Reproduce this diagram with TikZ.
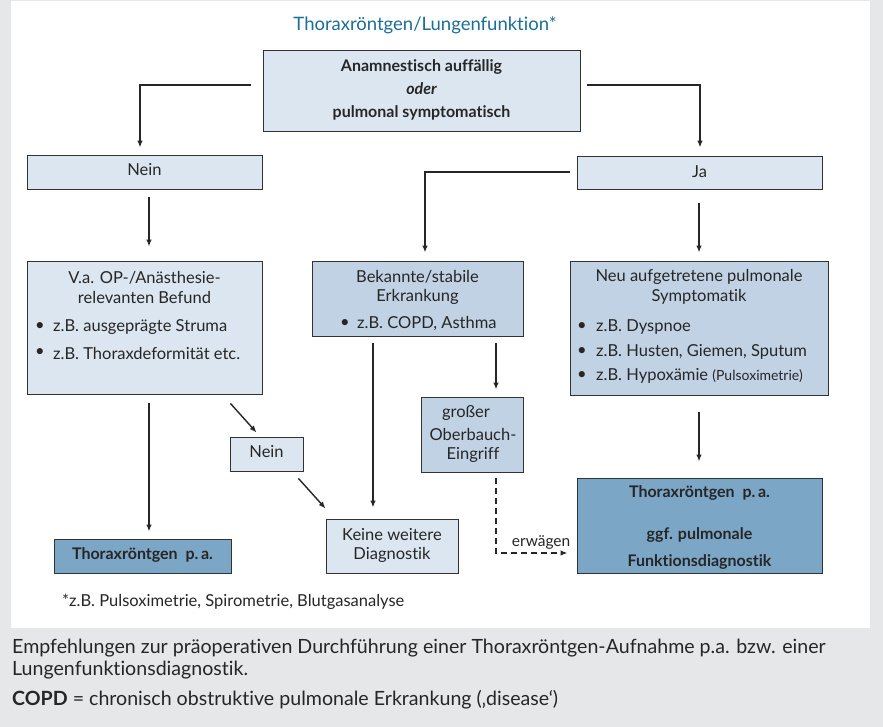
\documentclass[tikz,border=0pt]{standalone}
\usepackage{fontspec}
\setmainfont{Lato}[Ligatures=NoCommon]
\usetikzlibrary{arrows.meta,calc}
\definecolor{bggray}{RGB}{230,231,233}
\definecolor{boxlight}{RGB}{220,230,240}
\definecolor{boxmid}{RGB}{193,210,228}
\definecolor{boxdark}{RGB}{124,166,198}
\definecolor{titleblue}{RGB}{27,110,150}
\definecolor{edge}{RGB}{50,50,50}
\tikzset{
  box/.style={draw=edge, line width=0.9pt, inner sep=0pt},
  light/.style={box, fill=boxlight},
  mid/.style={box, fill=boxmid},
  dark/.style={box, fill=boxdark},
  txt/.style={inner sep=0pt, font=\fontsize{16.5}{19}\selectfont, text=black!85},
  btxt/.style={inner sep=0pt, font=\bfseries\fontsize{16}{19}\selectfont, text=black!85},
  captxt/.style={inner sep=0pt, anchor=west, font=\fontsize{19.6}{24}\selectfont, text=black!85},
  arr/.style={line width=1.4pt, draw=black!85, -{Latex[length=7pt,width=5.5pt]}},
  darr/.style={arr, dashed, dash pattern=on 6pt off 4pt},
}
\begin{document}
\begin{tikzpicture}[x=1pt,y=-1pt]
\useasboundingbox (0,0) rectangle (883,727);
\fill[bggray] (0,0) rectangle (883,727);
\fill[white] (11,1) rectangle (870,628);

% title
\node[inner sep=0pt, font=\fontsize{18.5}{22}\selectfont, text=titleblue] (title) at (425,25) {Thoraxröntgen/Lungenfunktion*};

% boxes
\node[light, minimum width=317pt, minimum height=81pt] (top) at (421.5,90.5) {};
\node[light, minimum width=235pt, minimum height=34pt] (nein1) at (144.5,172) {};
\node[light, minimum width=245pt, minimum height=33pt] (ja) at (699.5,172.5) {};
\node[light, minimum width=235pt, minimum height=133pt] (va) at (144.5,327.5) {};
\node[mid, minimum width=211pt, minimum height=75pt] (bek) at (417.5,298.5) {};
\node[mid, minimum width=258pt, minimum height=134pt] (neu) at (699,328) {};
\node[mid, minimum width=102pt, minimum height=75pt] (gross) at (472,434.5) {};
\node[light, minimum width=73pt, minimum height=34pt] (nein2) at (266.5,454) {};
\node[light, minimum width=132pt, minimum height=54pt] (keine) at (392,546) {};
\node[dark, minimum width=177pt, minimum height=34pt] (thor1) at (142.5,556) {};
\node[dark, minimum width=245pt, minimum height=95pt] (thor2) at (699.5,525.5) {};

% texts
\node[btxt] (top1) at (421.5,67) {Anamnestisch auffällig};
\node[btxt, font=\bfseries\itshape\fontsize{16}{19}\selectfont] (top2) at (421.5,89) {oder};
\node[btxt] (top3) at (421.5,113) {pulmonal symptomatisch};

\node[txt] (nein1t) at (144.5,170) {Nein};
\node[txt] (jat) at (699.5,172) {Ja};

\node[txt] (va1) at (144.5,278) {V.a. OP-/Anästhesie-};
\node[txt] (va2) at (144.5,297) {relevanten Befund};
\node[txt] (vab1) at (40,327) {\textbullet};
\node[txt, anchor=west] (va3) at (53,327) {z.B. ausgeprägte Struma};
\node[txt] (vab2) at (40,353) {\textbullet};
\node[txt, anchor=west] (va4) at (53,353) {z.B. Thoraxdeformität etc.};

\node[txt] (bek1) at (417.5,277) {Bekannte/stabile};
\node[txt] (bek2) at (417.5,297) {Erkrankung};
\node[txt] (bekb) at (345,324) {\textbullet};
\node[txt, anchor=west] (bek3) at (357,324) {z.B. COPD, Asthma};

\node[txt] (neu1) at (699,277) {Neu aufgetretene pulmonale};
\node[txt] (neu2) at (699,297) {Symptomatik};
\node[txt] (neub1) at (582,327) {\textbullet};
\node[txt, anchor=west] (neu3) at (596,327) {z.B. Dyspnoe};
\node[txt] (neub2) at (582,352) {\textbullet};
\node[txt, anchor=west] (neu4) at (596,352) {z.B. Husten, Giemen, Sputum};
\node[txt] (neub3) at (582,376) {\textbullet};
\node[txt, anchor=west] (neu5) at (596,376) {z.B. Hypoxämie {\fontsize{14}{16}\selectfont(Pulsoximetrie)}};

\node[txt] (gr1) at (466,413) {großer};
\node[txt] (gr2) at (473,434) {Oberbauch-};
\node[txt] (gr3) at (473,455) {Eingriff};

\node[txt] (nein2t) at (266.5,452) {Nein};
\node[txt] (ke1) at (392,535) {Keine weitere};
\node[txt] (ke2) at (392,555) {Diagnostik};

\node[btxt] (th1) at (142.5,555) {Thoraxröntgen~ p.\,a.};
\node[btxt] (th2a) at (699.5,493) {Thoraxröntgen~ p.\,a.};
\node[btxt] (th2b) at (699.5,535) {ggf. pulmonale};
\node[btxt] (th2c) at (699.5,562) {Funktionsdiagnostik};

% connectors
\draw[arr, shorten <=12pt, shorten >=7pt] ([yshift=5.5pt]top.west) -| ([xshift=-4.5pt]nein1.north);
\draw[arr, shorten <=7pt, shorten >=8pt] ([yshift=5.5pt]top.east) -| ([xshift=0.5pt]ja.north);
\draw[arr, shorten <=7pt, shorten >=8pt] ([yshift=0.5pt]ja.west) -| ([xshift=7.5pt]bek.north);
\draw[arr, shorten <=8pt, shorten >=14pt] ([xshift=4.5pt]nein1.south) -- ([xshift=4.5pt]nein1.south |- va.north);
\draw[arr, shorten <=14pt, shorten >=8pt] ([xshift=-0.5pt]ja.south) -- ([xshift=-0.5pt]ja.south |- neu.north);
\draw[arr, shorten <=9pt, shorten >=7pt] ([xshift=4.5pt]va.south) -- ([xshift=4.5pt]va.south |- thor1.north);
\draw[arr] ($(va.south east)+(-32,9)$) -- ($(nein2.north west)+(27,-4)$);
\draw[arr] ($(nein2.south east)+(-5,7)$) -- ($(keine.north west)+(0,-10)$);
\draw[arr, shorten <=7pt, shorten >=11pt] ([xshift=-44.5pt]bek.south) -- ([xshift=-44.5pt]bek.south |- keine.north);
\draw[arr, shorten <=7pt, shorten >=7pt] ([xshift=78.5pt]bek.south) -- ([xshift=78.5pt]bek.south |- gross.north);
\draw[arr, shorten <=17pt, shorten >=16pt] (neu.south) -- (neu.south |- thor2.north);
\draw[darr, shorten <=6pt, shorten >=9pt] ([xshift=24pt]gross.south) |- ([yshift=-27.5pt]thor2.west)
  node[pos=0.78, above=3pt, inner sep=0pt, font=\fontsize{15.5}{18}\selectfont, text=black!85] (erw) {erwägen};

% footnote
\node[txt, anchor=west] (foot) at (62,602) {*z.B. Pulsoximetrie, Spirometrie, Blutgasanalyse};

% caption
\node[captxt] (cap1) at (12,648) {Empfehlungen zur präoperativen Durchführung einer Thoraxröntgen-Aufnahme p.a. bzw. einer};
\node[captxt] (cap2) at (12,670) {Lungenfunktionsdiagnostik.};
\node[captxt] (cap3) at (12,700) {\textbf{COPD} = chronisch obstruktive pulmonale Erkrankung (‚disease‘)};
\end{tikzpicture}
\end{document}
